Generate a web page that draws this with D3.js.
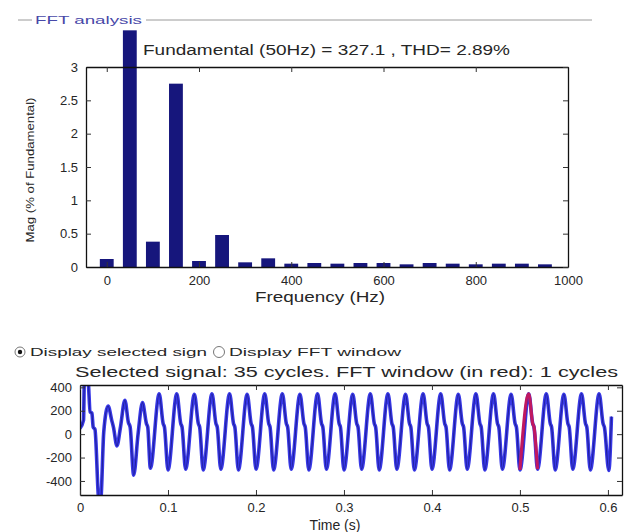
<!DOCTYPE html>
<html><head><meta charset="utf-8">
<script src="https://cdn.jsdelivr.net/npm/d3@7"></script>
<style>
html,body{margin:0;padding:0;background:#fff;}
svg{display:block;font-family:"Liberation Sans",Arial,sans-serif;}
</style></head>
<body>
<svg id="c" width="637" height="532"></svg>
<script>
// ---- FFT data ----
const freqs = [0,50,100,150,200,250,300,350,400,450,500,550,600,650,700,750,800,850,900,950];
const mags  = [0.12,3.55,0.38,2.75,0.09,0.48,0.07,0.13,0.05,0.06,0.05,0.06,0.06,0.04,0.06,0.05,0.04,0.05,0.05,0.04];
const magTicks = [0,0.5,1,1.5,2,2.5,3];
const freqTicks = [0,200,400,600,800,1000];
const fftTitle = "Fundamental (50Hz) = 327.1 , THD= 2.89%";

// ---- Time signal (vertices) ----
const sigT = [0.000,0.004,0.005,0.009,0.0115,0.0135,0.015,0.017,0.0215,0.0235,0.027,0.032,0.036,0.038,0.042,0.046,0.051,0.055,0.057,0.061,0.066,0.071,0.0755,0.077,
0.080,0.090,0.0945,0.096,0.100,0.110,0.1145,0.116,0.120,0.130,0.1345,0.136,0.140,0.150,0.1545,0.156,0.160,0.170,0.1745,0.176,
0.180,0.190,0.1945,0.196,0.200,0.210,0.2145,0.216,0.220,0.230,0.2345,0.236,0.240,0.250,0.2545,0.256,0.260,0.270,0.2745,0.276,
0.280,0.290,0.2945,0.296,0.300,0.310,0.3145,0.316,0.320,0.330,0.3345,0.336,0.340,0.350,0.3545,0.356,0.360,0.370,0.3745,0.376,
0.380,0.390,0.3945,0.396,0.400,0.410,0.4145,0.416,0.420,0.430,0.4345,0.436,0.440,0.450,0.4545,0.456,0.460,0.470,0.4745,0.476,
0.480,0.490,0.4945,0.496,0.500,0.510,0.5145,0.516,0.520,0.530,0.5345,0.536,0.540,0.550,0.5545,0.556,0.560,0.570,0.5745,0.576,
0.580,0.590,0.5945,0.596,0.601,0.604];
const sigV = [50,120,470,470,190,180,60,40,-560,-560,20,240,120,60,-100,60,290,100,60,-350,0,270,90,60,
-290,345,90,60,-305,345,90,60,-300,340,90,60,-305,345,90,60,-300,345,90,60,
-305,340,90,60,-300,345,90,60,-305,345,90,60,-300,340,90,60,-305,345,90,60,
-300,345,90,60,-305,340,90,60,-300,345,90,60,-305,345,90,60,-300,340,90,60,
-305,345,90,60,-300,345,90,60,-305,340,90,60,-300,345,90,60,-305,345,90,60,
-300,340,90,60,-305,345,90,60,-300,345,90,60,-305,340,90,60,-300,345,90,60,
-305,345,90,60,-310,150];
const fftWindow = [0.500,0.520];
const timeTicks = [0,0.1,0.2,0.3,0.4,0.5,0.6];
const ampTicks = [-400,-200,0,200,400];
const sigTitle = "Selected signal: 35 cycles. FFT window (in red): 1 cycles";

const svg = d3.select("#c");
const txt = "#262626";

// ---- Group frame ----
svg.append("line").attr("x1",18).attr("x2",32).attr("y1",20).attr("y2",20).attr("stroke","#9a9a9a");
svg.append("line").attr("x1",146).attr("x2",592).attr("y1",20).attr("y2",20).attr("stroke","#9a9a9a");
svg.append("text").attr("x",35).attr("y",24).attr("font-size",11).attr("fill","#4848a8")
  .attr("textLength",107).attr("lengthAdjust","spacingAndGlyphs").text("FFT analysis");

// ---- Top plot ----
const x1 = d3.scaleLinear().domain([-45,1000]).range([86,568]);
const y1 = d3.scaleLinear().domain([0,3]).range([267,67]);
const bw = x1(30)-x1(0);

svg.append("g").selectAll("rect").data(freqs).join("rect")
  .attr("x",(d)=>x1(d)-bw/2).attr("width",bw)
  .attr("y",(d,i)=>y1(mags[i])).attr("height",(d,i)=>y1(0)-y1(mags[i]))
  .attr("fill","#16167c");

function styleAxis(g, fs){
  g.selectAll("path").attr("stroke","#111").attr("stroke-width",1.3);
  g.selectAll("line").attr("stroke","#333");
  g.selectAll("text").attr("fill",txt).attr("font-size",fs).attr("font-family","Liberation Sans, Arial, sans-serif");
}
const fmt = d=>String(d);
styleAxis(svg.append("g").attr("transform","translate(86,0)")
  .call(d3.axisLeft(y1).tickValues(magTicks).tickFormat(fmt).tickSizeInner(-5).tickSizeOuter(0).tickPadding(8)),13);
styleAxis(svg.append("g").attr("transform","translate(0,267)")
  .call(d3.axisBottom(x1).tickValues(freqTicks).tickFormat(fmt).tickSizeInner(-5).tickSizeOuter(0).tickPadding(9)),13);
styleAxis(svg.append("g").attr("transform","translate(0,67)")
  .call(d3.axisTop(x1).tickValues(freqTicks).tickFormat("").tickSizeInner(-5).tickSizeOuter(0)),13);
styleAxis(svg.append("g").attr("transform","translate(568,0)")
  .call(d3.axisRight(y1).tickValues(magTicks).tickFormat("").tickSizeInner(-5).tickSizeOuter(0)),13);

svg.append("text").attr("x",143).attr("y",55).attr("font-size",14).attr("fill",txt)
  .attr("textLength",367).attr("lengthAdjust","spacingAndGlyphs").text(fftTitle);
svg.append("text").attr("x",320).attr("y",302).attr("text-anchor","middle").attr("font-size",14).attr("fill",txt)
  .attr("textLength",130).attr("lengthAdjust","spacingAndGlyphs").text("Frequency (Hz)");
svg.append("text").attr("transform","translate(34,170) rotate(-90)").attr("text-anchor","middle")
  .attr("font-size",11).attr("fill",txt).attr("textLength",145).attr("lengthAdjust","spacingAndGlyphs")
  .text("Mag (% of Fundamental)");

// ---- Radio buttons ----
svg.append("circle").attr("cx",20).attr("cy",352).attr("r",5).attr("fill","#fff").attr("stroke","#777");
svg.append("circle").attr("cx",20).attr("cy",352).attr("r",2.2).attr("fill","#111");
svg.append("text").attr("x",30).attr("y",356).attr("font-size",11).attr("fill",txt)
  .attr("textLength",177).attr("lengthAdjust","spacingAndGlyphs").text("Display selected sign");
svg.append("circle").attr("cx",219).attr("cy",352).attr("r",5.5).attr("fill","#fff").attr("stroke","#777");
svg.append("text").attr("x",229).attr("y",356).attr("font-size",11).attr("fill",txt)
  .attr("textLength",172).attr("lengthAdjust","spacingAndGlyphs").text("Display FFT window");
svg.append("text").attr("x",75).attr("y",377).attr("font-size",14).attr("fill",txt)
  .attr("textLength",543).attr("lengthAdjust","spacingAndGlyphs").text(sigTitle);

// ---- Bottom plot ----
const x2 = d3.scaleLinear().domain([0,0.616]).range([80,622]);
const y2 = d3.scaleLinear().domain([-520,420]).range([495,385]);
svg.append("clipPath").attr("id","clp").append("rect")
  .attr("x",80).attr("y",385).attr("width",542).attr("height",110);
const pts = sigT.map((t,i)=>[t,sigV[i]]);
const line = d3.line().x(d=>x2(d[0])).y(d=>y2(d[1])).curve(d3.curveMonotoneX);
const g2 = svg.append("g").attr("clip-path","url(#clp)");
g2.append("path").attr("d",line(pts)).attr("fill","none").attr("stroke","#3838e6").attr("stroke-width",3.6).attr("stroke-linejoin","round");
g2.append("path").attr("d",line(pts)).attr("fill","none").attr("stroke","#20209c").attr("stroke-width",1.1).attr("stroke-linejoin","round");
const red = pts.filter(p=>p[0]>=fftWindow[0] && p[0]<=fftWindow[1]);
g2.append("path").attr("d",line(red)).attr("fill","none").attr("stroke","#c01860").attr("stroke-width",3.2).attr("stroke-linejoin","round");

styleAxis(svg.append("g").attr("transform","translate(80,0)")
  .call(d3.axisLeft(y2).tickValues(ampTicks).tickFormat(fmt).tickSizeInner(-5).tickSizeOuter(0).tickPadding(8)),13);
styleAxis(svg.append("g").attr("transform","translate(0,495)")
  .call(d3.axisBottom(x2).tickValues(timeTicks).tickFormat(fmt).tickSizeInner(-5).tickSizeOuter(0).tickPadding(8)),13);
styleAxis(svg.append("g").attr("transform","translate(0,385)")
  .call(d3.axisTop(x2).tickValues(timeTicks).tickFormat("").tickSizeInner(-5).tickSizeOuter(0)),13);
styleAxis(svg.append("g").attr("transform","translate(622,0)")
  .call(d3.axisRight(y2).tickValues(ampTicks).tickFormat("").tickSizeInner(-5).tickSizeOuter(0)),13);
svg.append("text").attr("x",335).attr("y",530).attr("text-anchor","middle").attr("font-size",14).attr("fill",txt)
  .text("Time (s)");
</script>
</body></html>
